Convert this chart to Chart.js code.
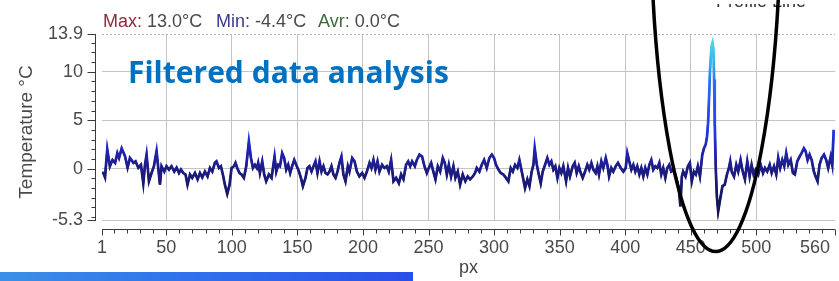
<!DOCTYPE html>
<html>
<head>
<meta charset="utf-8">
<script src="https://cdn.jsdelivr.net/npm/chart.js@4.4.1/dist/chart.umd.min.js"></script>
<style>
  body { margin: 0; background: #fff; }
  #wrap { width: 839px; height: 281px; }
</style>
</head>
<body>
<div id="wrap"><canvas id="chart" width="839" height="281"></canvas></div>
<script>
// position along the profile line (px) and filtered temperature (°C)
const pxValues = [
  1, 2, 3.3, 5, 7, 9, 11, 12.7, 14, 16,
  18.5, 20.5, 22.3, 25, 26.6, 28.7, 30.7, 32.5, 33.8, 35,
  36.8, 38.8, 40.6, 42.6, 45.2, 46.4, 48.5, 50.2, 52.1, 54,
  56.1, 57.9, 59.7, 61.2, 63, 64.7, 66.2, 68.1, 69.8, 71.9,
  73.9, 75.7, 77.5, 79.5, 81.5, 83.3, 85.1, 87.1, 88.3, 90.2,
  91.7, 93.5, 94.7, 96.5, 98.3, 99.8, 101.6, 102.8, 104.1, 105.9,
  107.4, 109.2, 111, 113, 114.6, 116.1, 117.6, 119.1, 120.1, 121.4,
  123.2, 124.7, 126.2, 128.3, 130.3, 132.6, 133.9, 135.4, 136.7, 138.4,
  139.9, 141.5, 143, 144.5, 146, 147.6, 149.1, 151.2, 152.7, 154.2,
  156.2, 157.7, 159.2, 160.8, 162.3, 163.8, 165.3, 166.9, 168.4, 169.9,
  171.4, 173, 174.5, 176, 177.5, 179.1, 180.6, 182.1, 183.6, 185.1,
  186.7, 188.5, 189.7, 191.8, 193.6, 195.4, 197.3, 199.4, 201.2, 203,
  205, 206.5, 208, 209.5, 211.1, 212.6, 214.6, 216.4, 218.2, 219.7,
  221.5, 223.3, 225.3, 227.4, 229.1, 230.9, 232.9, 234.5, 236, 237.5,
  239.6, 241.1, 243.1, 245.1, 246.9, 248.7, 250.2, 252, 253.7, 255.3,
  257.1, 258.9, 260.9, 262.4, 264, 265.5, 267.2, 269, 270.5, 272.3,
  274.1, 276.1, 278.1, 279.9, 281.7, 283.8, 285.5, 286.8, 288.8, 290.6,
  292.4, 294.4, 296.4, 298.3, 300, 301.5, 303.3, 305.1, 307.1, 309.1,
  310.9, 312.7, 314.3, 316, 317.8, 319.3, 321.1, 322.3, 323.6, 325.4,
  327, 328.7, 330, 331, 332.6, 334.1, 335.6, 337.1, 338.9, 340.6,
  342.2, 343.7, 345.2, 346.7, 348.3, 349.8, 351.3, 352.8, 354.9, 356.4,
  357.9, 360, 361.5, 363, 364.6, 366.1, 367.6, 369.4, 371.1, 372.6,
  374.2, 375.7, 377.5, 378.8, 380, 381.8, 383.3, 385.2, 386.4, 387.7,
  389.4, 390.9, 392.8, 394.5, 396.6, 398.6, 400.4, 401.6, 403.1, 404.7,
  406.2, 407.7, 409.2, 410.8, 412.3, 413.8, 415.3, 416.9, 418.4, 419.9,
  421.4, 423, 424.5, 426, 427.5, 429, 430.6, 432.1, 433.6, 435.1,
  437.1, 439.2, 440.9, 442.1, 443.2, 444.2, 446, 447.8, 449.3, 450.8,
  452.4, 453.9, 455.4, 457, 458.8, 460.1, 461.4, 462.4, 463.2, 464,
  464.7, 465.8, 466.6, 467.3, 467.8, 468.3, 469.1, 469.9, 470.9, 472.6,
  474.2, 475.9, 477.6, 479.1, 480.1, 481.2, 483, 484.7, 486.2, 488,
  489.3, 491.3, 493.1, 494.9, 496.4, 497.9, 499.5, 501.5, 503.3, 505.1,
  506.6, 508.3, 510.2, 511.7, 513.5, 515.2, 516.7, 518.2, 519.8, 521.3,
  522.8, 524.4, 526.2, 527.9, 529.4, 531.2, 533, 534.5, 536.3, 537.6,
  539.1, 540.6, 542.2, 543.9, 545.2, 546.7, 548.2, 549.8, 551.6, 553.3,
  554.8, 556.7, 557.9, 559
];
const tempValues = [
  -0.4, -0.45, -0.9, 2.0, 0.25, 0.9, 0.6, 1.6, 1.1, 2.1,
  1.3, 0.1, 1.1, 0.6, 0.75, 0.1, 0.4, -1.5, 0.4, 1.45,
  -1.3, -0.45, 0.25, 1.8, -1.65, 0.25, -0.3, 0.25, -0.1, 0.25,
  -0.3, 0.1, -0.45, -0.1, -0.45, -0.6, -1.65, -0.6, -0.95, -0.45,
  -1.1, -0.45, -0.9, -0.3, -0.8, 0.07, -0.3, 0.6, 0.75, 0.07,
  0.25, -0.8, -1.65, -2.6, -1.65, 0.07, 0.25, 0.6, 0.07, -0.45,
  -0.6, -0.95, 0.25, 2.8, 1.1, 0.07, 0.4, 0.07, 0.6, -0.45,
  0.75, -0.6, -1.3, -0.6, -0.95, 1.25, -0.3, 0.4, 0.25, 1.6,
  1.1, -0.1, 0.4, -0.45, 0.25, 0.9, 0.4, -0.3, -0.95, -1.8,
  -0.95, 0.07, 0.25, -0.3, 0.25, 0.75, -0.45, 0.75, -0.3, 0.25,
  -0.45, -0.6, -0.3, 0.25, -0.6, -0.95, -0.3, 0.6, 1.25, -0.6,
  -1.3, 0.25, -0.3, 1.1, 0.75, -0.3, -0.8, -0.45, -0.95, -0.3,
  0.6, 0.07, 0.9, -0.1, 0.75, -0.3, 0.4, 0.07, 0.25, -0.3,
  0.9, -1.3, -0.95, -1.5, -0.6, -1.1, 0.4, 0.75, 0.25, 0.75,
  0.25, 0.9, 1.45, 1.25, 0.25, -0.45, 0.07, 0.6, -0.3, -1.1,
  0.25, -0.3, 1.1, 0.6, -0.6, 0.4, -0.8, 0.25, -0.95, -0.3,
  -1.65, -0.6, -1.3, -0.8, -1.1, -0.8, -0.45, 0.07, -0.3, 0.4,
  0.9, 0.07, 1.1, 1.45, 1.1, 0.4, -0.1, -0.45, -0.6, -0.95,
  -1.3, 0.07, -0.3, 0.4, 0.07, 0.9, -0.3, -1.1, -2.0, -1.1,
  -1.8, -0.3, 0.4, 2.1, 0.4, -0.6, -1.5, -0.3, 0.4, 1.1,
  0.4, 0.75, -0.1, 0.25, -0.95, 0.07, -0.45, 0.25, -1.3, 0.07,
  -0.8, 0.25, 0.6, -0.45, 0.25, -0.45, -0.95, -0.3, 0.4, -0.1,
  0.6, -0.1, -0.45, 0.25, -0.6, 0.75, 0.07, 1.1, 0.4, -0.8,
  0.07, -0.3, 0.25, 0.6, 0.07, -0.3, 0.07, 1.6, 0.75, -0.1,
  0.4, -0.3, 0.25, -0.6, 0.07, -0.8, 0.07, -0.6, 0.4, 0.9,
  -0.1, 0.25, 0.07, 0.6, -0.6, 0.07, -0.95, 0.07, 0.4, -0.3,
  -0.1, -1.1, -2.0, -3.9, -0.8, -0.3, -0.8, 0.25, 0.6, -1.3,
  -0.3, -0.6, 0.25, -0.8, 1.45, 2.1, 2.5, 3.3, 4.7, 7.45,
  10.2, 12.6, 13.0, 12.3, 9.2, 4.7, -0.1, -2.85, -4.4, -3.0,
  -1.8, -1.65, -0.6, 0.07, 0.75, -0.3, -0.8, 0.4, -0.3, 0.9,
  -0.1, -1.1, 0.75, -0.8, 0.4, -0.6, -0.1, -0.6, 0.4, -0.45,
  0.07, -0.3, 0.4, -0.45, 0.25, -0.6, 1.1, 0.07, 0.9, 0.25,
  1.6, 0.4, 0.9, -0.45, -0.6, 0.75, 1.25, 1.6, 2.1, 1.8,
  0.9, 1.45, 0.9, -0.3, -0.8, -1.3, 0.4, 1.1, 1.45, 0.9,
  0.07, 1.25, 0.4, 4.0
];
const yTicks = [-5.3, 0, 5, 10, 13.9];
const xTicks = [1, 50, 100, 150, 200, 250, 300, 350, 400, 450, 500, 560];
const statLabels = ['Max:', 'Min:', 'Avr:'];
const statValues = ['13.0°C', '-4.4°C', '0.0°C'];

const FONT = '"Liberation Sans", Arial, sans-serif';
const points = pxValues.map((x, i) => ({ x: x, y: tempValues[i] }));

// colour ramps by temperature (value, colour)
const outerStops = [[-5.3, '#12124c'], [0, '#1c1c84'], [2, '#2222b8'], [4, '#2038e8'], [9, '#2a72f0'], [11, '#36b4e8'], [13.9, '#5ae0e0']];
const innerStops = [[-5.3, '#08082a'], [0, '#10103e'], [1.5, '#141456'], [3, '#1c28b8'], [6, '#2048f0'], [9, '#2a78f0'], [11, '#38b8e8'], [13.9, '#5ce4e0']];

function lineGradient(chart, stops) {
  const { ctx, chartArea, scales } = chart;
  if (!chartArea) return stops[1][1];
  const y = scales.y;
  const g = ctx.createLinearGradient(0, y.getPixelForValue(y.min), 0, y.getPixelForValue(y.max));
  stops.forEach(([v, c]) => g.addColorStop((v - y.min) / (y.max - y.min), c));
  return g;
}

const overlay = {
  id: 'overlay',
  beforeDatasetsDraw(chart) {
    const { ctx, chartArea: a, scales: { y } } = chart;
    // dotted top frame
    ctx.save();
    ctx.strokeStyle = '#b4b4b4';
    ctx.lineWidth = 1;
    ctx.setLineDash([2, 2]);
    const yt = Math.round(y.getPixelForValue(13.9)) + 0.5;
    ctx.beginPath();
    ctx.moveTo(a.left, yt);
    ctx.lineTo(a.right, yt);
    ctx.stroke();
    ctx.restore();
  },
  afterDraw(chart) {
    const { ctx, chartArea: a, scales: { x, y } } = chart;
    ctx.save();

    // axis lines with major / minor ticks
    ctx.strokeStyle = '#3a3a3a';
    ctx.lineWidth = 1;
    ctx.beginPath();
    const ax = a.left - 6.5;
    ctx.moveTo(ax, a.top);
    ctx.lineTo(ax, a.bottom + 1);
    for (let v = -5; v <= 13; v++) {
      const py = Math.round(y.getPixelForValue(v)) + 0.5;
      ctx.moveTo(ax, py); ctx.lineTo(ax - 4, py);
    }
    yTicks.forEach(v => {
      const py = Math.round(y.getPixelForValue(v)) + 0.5;
      ctx.moveTo(ax, py); ctx.lineTo(ax - 8, py);
    });
    const ay = a.bottom + 9.5;
    ctx.moveTo(x.getPixelForValue(1), ay);
    ctx.lineTo(x.getPixelForValue(560), ay);
    for (let v = 10; v <= 550; v += 10) {
      const px = Math.round(x.getPixelForValue(v)) + 0.5;
      ctx.moveTo(px, ay); ctx.lineTo(px, ay + 4);
    }
    xTicks.forEach(v => {
      const px = Math.round(x.getPixelForValue(v)) + 0.5;
      ctx.moveTo(px, ay); ctx.lineTo(px, ay + 6);
    });
    ctx.stroke();

    // x tick labels (last one pulled inside the right edge)
    ctx.font = '18px ' + FONT;
    ctx.fillStyle = '#4a4a4a';
    ctx.textBaseline = 'middle';
    xTicks.forEach((v, i) => {
      const last = i === xTicks.length - 1;
      ctx.textAlign = last ? 'right' : 'center';
      ctx.fillText(String(v), last ? x.getPixelForValue(v) - 5 : x.getPixelForValue(v), a.bottom + 28);
    });

    // y axis title
    ctx.save();
    ctx.translate(27, 132);
    ctx.rotate(-Math.PI / 2);
    ctx.textAlign = 'center';
    ctx.font = '19px ' + FONT;
    ctx.fillText('Temperature °C', 0, 0);
    ctx.restore();

    // statistics line
    const statX = [103, 216, 318];
    const statColors = ['#8a2c3c', '#3a3a8c', '#3a6c3a'];
    ctx.textAlign = 'left';
    ctx.font = '18px ' + FONT;
    statLabels.forEach((lab, i) => {
      ctx.fillStyle = statColors[i];
      ctx.fillText(lab, statX[i], 22.5);
      const w = ctx.measureText(lab + ' ').width;
      ctx.fillStyle = '#4a4a4a';
      ctx.fillText(statValues[i], statX[i] + w, 22.5);
    });

    // cut-off legend text at top right, only its lower edge shows
    ctx.save();
    ctx.beginPath();
    ctx.rect(700, 4, 139, 4);
    ctx.clip();
    ctx.fillStyle = '#333';
    ctx.font = '18px ' + FONT;
    ctx.textBaseline = 'alphabetic';
    ctx.fillText('Profile Line', 716, 7);
    ctx.restore();

    // slide heading
    ctx.fillStyle = '#0070C0';
    ctx.textBaseline = 'alphabetic';
    ctx.font = 'bold 30px "Open Sans", ' + FONT;
    ctx.fillText('Filtered data analysis', 128, 83, 326);

    // hand-drawn ellipse round the hot spot
    ctx.strokeStyle = '#000';
    ctx.lineWidth = 3.5;
    ctx.beginPath();
    ctx.ellipse(x.getPixelForValue(469), -98.5, 65, 350, 0, 0, Math.PI * 2);
    ctx.stroke();

    // blue strip at the bottom of the slide
    const bar = ctx.createLinearGradient(0, 0, 413, 0);
    bar.addColorStop(0, '#3b90e6');
    bar.addColorStop(0.5, '#2f6eec');
    bar.addColorStop(1, '#2a4ee8');
    ctx.fillStyle = bar;
    ctx.fillRect(0, 272, 413, 9);

    ctx.restore();
  }
};

new Chart(document.getElementById('chart'), {
  type: 'line',
  data: {
    datasets: [
      {
        data: points,
        borderColor: c => lineGradient(c.chart, outerStops),
        borderWidth: 2.7,
        pointRadius: 0,
        tension: 0,
      },
      {
        data: points,
        borderColor: c => lineGradient(c.chart, innerStops),
        borderWidth: 1.9,
        pointRadius: 0,
        tension: 0,
      },
    ],
  },
  options: {
    responsive: false,
    animation: false,
    layout: { padding: { top: 34, right: 4, left: 0, bottom: 0 } },
    plugins: { legend: { display: false }, tooltip: { enabled: false } },
    scales: {
      x: {
        type: 'linear',
        min: 1,
        max: 560,
        afterBuildTicks: s => { s.ticks = xTicks.map(v => ({ value: v })); },
        afterFit: s => { s.height = 61; },
        ticks: { display: false },
        grid: {
          drawTicks: false,
          color: c => (c.tick && (c.tick.value === 1 || c.tick.value === 560)) ? 'rgba(0,0,0,0)' : '#c4c4c4',
        },
        border: { display: false },
        title: {
          display: true,
          text: 'px',
          color: '#444',
          font: { family: FONT, size: 18 },
          padding: { top: 0, bottom: 2 },
        },
      },
      y: {
        min: -5.3,
        max: 13.9,
        afterBuildTicks: s => { s.ticks = yTicks.map(v => ({ value: v })); },
        afterFit: s => { s.width = 102; },
        ticks: {
          padding: 19,
          color: '#4a4a4a',
          font: { family: FONT, size: 18 },
          callback: v => String(v),
        },
        grid: {
          drawTicks: false,
          color: c => (c.tick && c.tick.value === 13.9) ? 'rgba(0,0,0,0)' : '#c4c4c4',
        },
        border: { display: false },
      },
    },
  },
  plugins: [overlay],
});
</script>
</body>
</html>
